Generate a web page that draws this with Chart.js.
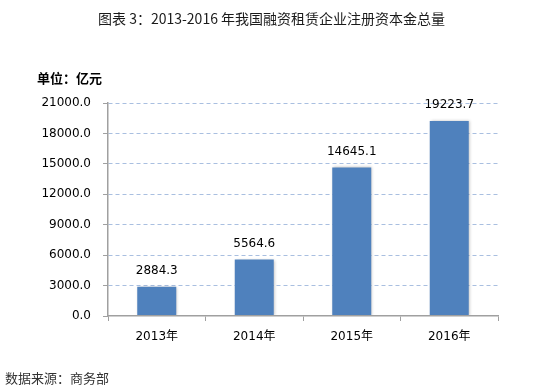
<!DOCTYPE html>
<html>
<head>
<meta charset="utf-8">
<script src="https://cdn.jsdelivr.net/npm/chart.js@4/dist/chart.umd.min.js"></script>
<style>
  html, body { margin: 0; padding: 0; background: #fff; }
  #wrap { position: relative; width: 541px; height: 386px; overflow: hidden; }
  #c { position: absolute; left: 0; top: 0; }
  .txt { position: absolute; white-space: nowrap; }
  #title { left: 98px; top: 8px; font: 14px "Noto Sans CJK SC", sans-serif; color: #1a1a1a; }
  #unit { left: 37px; top: 68px; font: bold 13px "Noto Sans CJK SC", sans-serif; color: #000; }
  #source { left: 5px; top: 368px; font: 13px "Noto Sans CJK SC", serif; color: #333; }
</style>
</head>
<body>
<div id="wrap">
  <canvas id="c" width="541" height="386"></canvas>
  <div class="txt" id="title">图表 3：2013-2016 年我国融资租赁企业注册资本金总量</div>
  <div class="txt" id="unit">单位：亿元</div>
  <div class="txt" id="source">数据来源：商务部</div>
</div>
<script>
const categories = ["2013年", "2014年", "2015年", "2016年"];
const capitalValues = [2884.3, 5564.6, 14645.1, 19223.7];
const yTickMin = 0;
const yTickMax = 21000;
const yTickStep = 3000;

const barShadow = {
  id: 'barShadow',
  beforeDatasetsDraw(chart) {
    const ctx = chart.ctx;
    ctx.save();
    ctx.shadowColor = 'rgba(0,0,0,0.25)';
    ctx.shadowBlur = 3;
    ctx.shadowOffsetX = 1;
    ctx.shadowOffsetY = 0;
  },
  afterDatasetsDraw(chart) {
    chart.ctx.restore();
  }
};

const valueLabels = {
  id: 'valueLabels',
  afterDatasetsDraw(chart) {
    const ctx = chart.ctx;
    const meta = chart.getDatasetMeta(0);
    ctx.save();
    ctx.font = '12px "DejaVu Sans", sans-serif';
    ctx.fillStyle = '#000';
    ctx.textAlign = 'center';
    ctx.textBaseline = 'middle';
    meta.data.forEach((bar, i) => {
      const v = chart.data.datasets[0].data[i];
      ctx.fillText(v.toFixed(1), bar.x, bar.y - 16);
    });
    ctx.restore();
  }
};

new Chart(document.getElementById('c'), {
  type: 'bar',
  data: {
    labels: categories,
    datasets: [{
      data: capitalValues,
      backgroundColor: '#4f81bd',
      borderWidth: 0,
      barPercentage: 0.8,
      categoryPercentage: 0.5
    }]
  },
  options: {
    responsive: false,
    animation: false,
    devicePixelRatio: 1,
    layout: { padding: { left: 0, top: 103, right: 43, bottom: 0 } },
    plugins: { legend: { display: false }, tooltip: { enabled: false }, title: { display: false } },
    scales: {
      x: {
        grid: { display: true, drawOnChartArea: false, drawTicks: true, tickLength: 5, tickColor: '#a0a0a0', offset: true },
        border: { display: true, color: '#a0a0a0', width: 1.5, z: 1 },
        ticks: { color: '#000', padding: 9, font: { family: '"DejaVu Sans", "Noto Sans CJK SC", sans-serif', size: 12 } },
        afterFit: s => { s.height = 70; }
      },
      y: {
        min: yTickMin,
        max: yTickMax,
        ticks: {
          stepSize: yTickStep,
          color: '#000',
          padding: 12,
          font: { family: '"DejaVu Sans", sans-serif', size: 12 },
          callback: v => Number(v).toFixed(1)
        },
        grid: {
          color: ctx => (ctx.tick && ctx.tick.value === 0) ? 'rgba(0,0,0,0)' : '#a9bfe0',
          lineWidth: 1, tickLength: 5, tickColor: '#a0a0a0'
        },
        border: { display: true, color: '#a0a0a0', width: 1.5, dash: [4, 3], z: 1 },
        afterFit: s => { s.width = 108; }
      }
    }
  },
  plugins: [barShadow, valueLabels]
});
</script>
</body>
</html>
